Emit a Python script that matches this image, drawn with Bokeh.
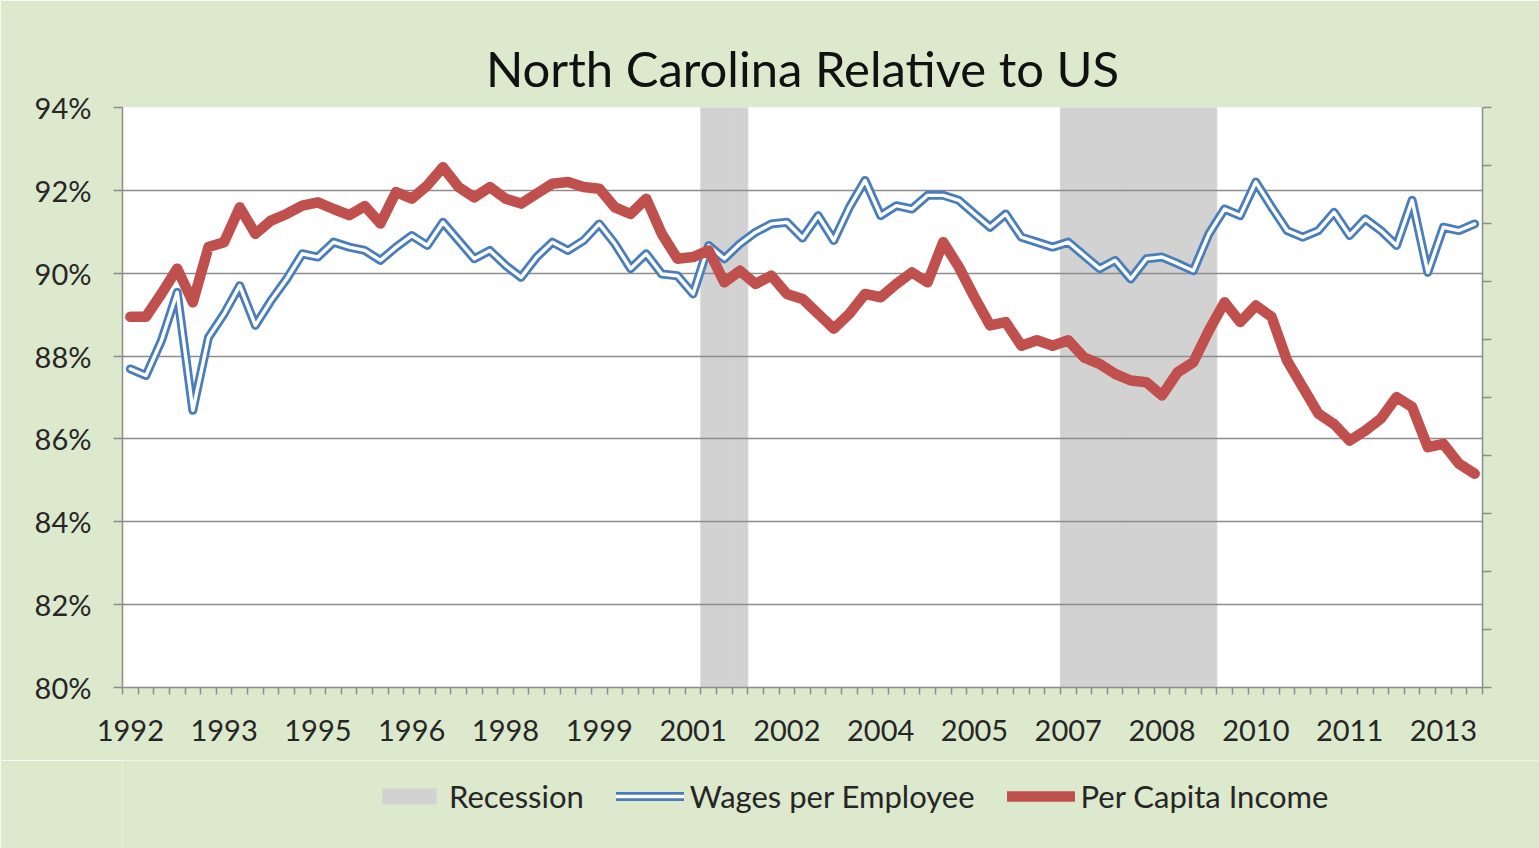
from bokeh.plotting import figure
from bokeh.layouts import column
from bokeh.models import (Range1d, LinearAxis, FixedTicker, PrintfTickFormatter,
                          Legend, LegendItem, ColumnDataSource)
from bokeh.embed import file_html
from bokeh.resources import INLINE

# ---------------- data (quarterly, 1992Q1 .. 2013Q3) ----------------
quarters = [f"{y}Q{q}" for y in range(1992, 2014) for q in range(1, 5)][:87]

wages_per_employee = [
    87.69, 87.53, 88.38, 89.54, 86.69, 88.45, 89.02, 89.70, 88.74, 89.34,
    89.86, 90.47, 90.39, 90.75, 90.63, 90.55, 90.31, 90.63, 90.91, 90.67,
    91.23, 90.79, 90.35, 90.55, 90.19, 89.90, 90.39, 90.75, 90.55, 90.79,
    91.19, 90.71, 90.11, 90.47, 89.98, 89.94, 89.50, 90.67, 90.35, 90.71,
    90.99, 91.19, 91.23, 90.85, 91.39, 90.79, 91.59, 92.24, 91.39, 91.63,
    91.55, 91.88, 91.88, 91.76, 91.43, 91.11, 91.43, 90.87, 90.75, 90.63,
    90.75, 90.43, 90.11, 90.31, 89.86, 90.35, 90.39, 90.23, 90.06, 90.95,
    91.55, 91.39, 92.20, 91.60, 91.03, 90.87, 91.03, 91.47, 90.91, 91.31,
    91.03, 90.67, 91.76, 90.02, 91.11, 91.03, 91.19,
]

per_capita_income = [
    88.95, 88.95, 89.51, 90.11, 89.30, 90.63, 90.75, 91.59, 90.95, 91.27,
    91.43, 91.63, 91.71, 91.55, 91.40, 91.62, 91.20, 91.96, 91.80, 92.12,
    92.56, 92.08, 91.83, 92.08, 91.80, 91.68, 91.92, 92.16, 92.20, 92.08,
    92.04, 91.59, 91.43, 91.80, 90.95, 90.35, 90.39, 90.55, 89.78, 90.06,
    89.74, 89.94, 89.50, 89.38, 89.02, 88.66, 89.02, 89.50, 89.42, 89.74,
    90.02, 89.78, 90.75, 90.15, 89.42, 88.74, 88.82, 88.25, 88.38, 88.25,
    88.38, 87.97, 87.81, 87.57, 87.41, 87.37, 87.05, 87.61, 87.85, 88.62,
    89.30, 88.82, 89.22, 88.95, 87.89, 87.25, 86.61, 86.36, 85.96, 86.20,
    86.49, 87.01, 86.77, 85.80, 85.88, 85.40, 85.16,
]

recession = [0] * 87
for i in list(range(37, 40)) + list(range(60, 70)):
    recession[i] = 1

year_labels = ["1992", "1993", "1995", "1996", "1998", "1999", "2001", "2002",
               "2004", "2005", "2007", "2008", "2010", "2011", "2013"]

y_ticks = [80, 82, 84, 86, 88, 90, 92, 94]

series_names = ["Recession", "Wages per Employee", "Per Capita Income"]

# ---------------- styles ----------------
FONT = "Lato"
TXT = "#262626"
GRID = "#8c8c8c"
BG = "#dce9cd"
REC = "#d2d2d2"
BLUE = "#4a7ebb"
RED = "#c0504d"

xc = [i + 0.5 for i in range(len(quarters))]
src = ColumnDataSource(dict(x=xc, q=quarters, wages=wages_per_employee,
                            pci=per_capita_income, rec=recession))

p = figure(frame_width=1360, frame_height=580, output_backend="svg",
           toolbar_location=None,
           x_range=Range1d(0, 87), y_range=Range1d(80, 94),
           min_border_left=122, min_border_right=57, min_border_top=107,
           min_border_bottom=73)
p.extra_y_ranges = {"sec": Range1d(0, 1)}

p.background_fill_color = "white"
p.border_fill_color = BG
p.outline_line_color = None

p.title.text = "North Carolina Relative to US"
p.title.text_font = FONT
p.title.text_font_size = "49px"
p.title.text_font_style = "normal"
p.title.text_color = "#111111"
p.title.align = "center"
p.title.standoff = 22
p.title.offset = 0

# recession bars (secondary axis 0..1)
p.vbar(x="x", top="rec", width=1.0, source=src, y_range_name="sec",
       fill_color=REC, line_color=REC, line_width=1, level="image")

# wages: double line
p.line("x", "wages", source=src, line_color=BLUE, line_width=9,
       line_join="round", line_cap="round")
p.line("x", "wages", source=src, line_color="white", line_width=3.4,
       line_join="round", line_cap="round")
# per capita income
p.line("x", "pci", source=src, line_color=RED, line_width=10.5,
       line_join="round", line_cap="round")

# x axis
xa = p.xaxis[0]
xa.ticker = FixedTicker(ticks=[0.5 + 6 * k for k in range(len(year_labels))],
                        minor_ticks=list(range(0, 88)))
xa.major_label_overrides = {0.5 + 6 * k: lab for k, lab in enumerate(year_labels)}
xa.major_tick_out = 0
xa.major_tick_in = 0
xa.minor_tick_out = 7
xa.minor_tick_in = 0
xa.minor_tick_line_color = GRID
xa.minor_tick_line_width = 1.5
xa.axis_line_color = GRID
xa.axis_line_width = 1.5
xa.major_label_text_font = FONT
xa.major_label_text_font_size = "29px"
xa.major_label_text_color = TXT
xa.major_label_standoff = 25

# y axis
ya = p.yaxis[0]
ya.ticker = FixedTicker(ticks=y_ticks, minor_ticks=[])
ya.formatter = PrintfTickFormatter(format="%d%%")
ya.major_tick_out = 9
ya.major_tick_in = 0
ya.major_tick_line_color = GRID
ya.major_tick_line_width = 1.5
ya.axis_line_color = GRID
ya.axis_line_width = 1.5
ya.major_label_text_font = FONT
ya.major_label_text_font_size = "29px"
ya.major_label_text_color = TXT
ya.major_label_standoff = 22
ya.minor_tick_line_color = None

# secondary (right) axis, unlabeled
sec_ticks = [round(k / 10, 1) for k in range(11)]
ra = LinearAxis(y_range_name="sec",
                ticker=FixedTicker(ticks=sec_ticks, minor_ticks=[]))
ra.major_label_overrides = {t: "" for t in sec_ticks}
ra.major_tick_out = 9
ra.major_tick_in = 0
ra.major_tick_line_color = GRID
ra.major_tick_line_width = 1.5
ra.axis_line_color = GRID
ra.axis_line_width = 1.5
ra.minor_tick_line_color = None
p.add_layout(ra, "right")

p.xgrid.grid_line_color = None
p.ygrid.ticker = FixedTicker(ticks=y_ticks)
p.ygrid.grid_line_color = GRID
p.ygrid.grid_line_width = 1.5

# ---------------- legend strip (separate figure below the chart) ----------------
# same series are drawn here, but the view range lies away from the data,
# so only the legend samples are visible
lf = figure(frame_width=1539, frame_height=88, output_backend="svg",
            toolbar_location=None, x_range=Range1d(100, 101),
            y_range=Range1d(100, 101), min_border=0,
            min_border_left=0, min_border_right=0,
            min_border_top=0, min_border_bottom=0)
lf.axis.visible = False
lf.grid.visible = False
lf.outline_line_color = None
lf.background_fill_color = BG
lf.border_fill_color = BG

lr = lf.vbar(x="x", top="rec", width=1, source=src, fill_color=REC, line_color=None)
lb = lf.line("x", "wages", source=src, line_color=BLUE, line_width=9, line_cap="round")
lw = lf.line("x", "wages", source=src, line_color="white", line_width=3.4, line_cap="round")
lrd = lf.line("x", "pci", source=src, line_color=RED, line_width=10.5, line_cap="round")

legend = Legend(items=[
    LegendItem(label=series_names[0], renderers=[lr]),
    LegendItem(label=series_names[1], renderers=[lb, lw]),
    LegendItem(label=series_names[2], renderers=[lrd]),
], orientation="horizontal", location=(375, 33))
legend.label_text_font = FONT
legend.label_text_font_size = "31px"
legend.label_text_color = TXT
legend.glyph_width = 68
legend.glyph_height = 20
legend.label_standoff = 6
legend.spacing = 32
legend.padding = 10
legend.margin = 0
legend.background_fill_alpha = 0
legend.border_line_color = None
lf.add_layout(legend, "center")

layout = column(p, lf, spacing=0)
open("out.html", "w").write(file_html(layout, INLINE))
